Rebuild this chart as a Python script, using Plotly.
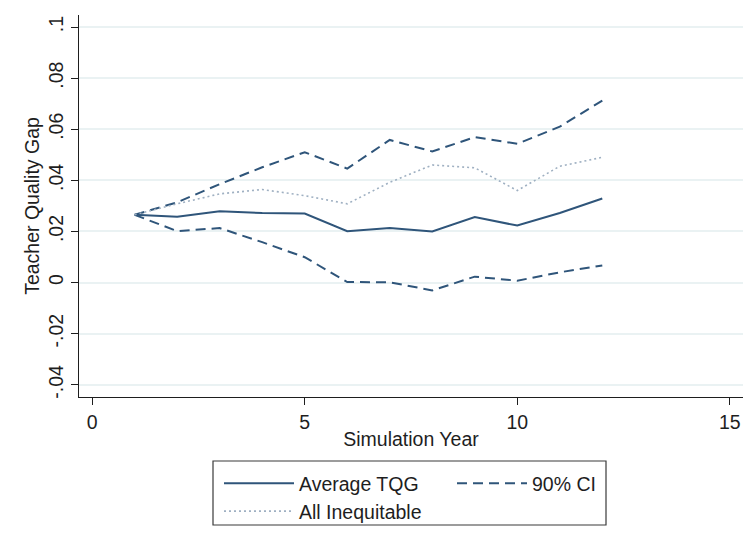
import plotly.graph_objects as go

years = list(range(1, 13))
avg_tqg = [0.0265, 0.0257, 0.0279, 0.0272, 0.0270, 0.0201, 0.0213, 0.0200, 0.0256, 0.0223, 0.0272, 0.0329]
ci_upper = [0.0265, 0.0314, 0.0385, 0.0451, 0.0510, 0.0446, 0.0558, 0.0513, 0.0569, 0.0543, 0.0610, 0.0712]
ci_lower = [0.0265, 0.0201, 0.0213, 0.0158, 0.0099, 0.0002, 0.0001, -0.0031, 0.0023, 0.0007, 0.0040, 0.0067]
all_ineq = [0.0265, 0.0308, 0.0347, 0.0364, 0.0340, 0.0308, 0.0392, 0.0460, 0.0449, 0.0360, 0.0455, 0.0490]

ytick_vals = [-0.04, -0.02, 0, 0.02, 0.04, 0.06, 0.08, 0.1]
ytick_text = ["-.04", "-.02", "0", ".02", ".04", ".06", ".08", ".1"]
xtick_vals = [0, 5, 10, 15]

NAVY = "#2f557a"
FONT = "Liberation Sans, Arial, sans-serif"
TXT = "#1e1e1e"
FS = 19.5

fig = go.Figure()
fig.add_trace(go.Scatter(x=years, y=avg_tqg, mode="lines", name="Average TQG",
                         line=dict(color=NAVY, width=2), legendwidth=145, legend="legend"))
fig.add_trace(go.Scatter(x=years, y=ci_upper, mode="lines", name="90% CI",
                         line=dict(color=NAVY, width=2, dash="10px,6px"), legend="legend"))
fig.add_trace(go.Scatter(x=years, y=ci_lower, mode="lines", name="90% CI",
                         line=dict(color=NAVY, width=2, dash="10px,6px"), showlegend=False))
fig.add_trace(go.Scatter(x=years, y=all_ineq, mode="lines", name="All Inequitable",
                         line=dict(color="#9fb0c2", width=1.6, dash="2px,3px"), legend="legend2"))

legend_common = dict(orientation="h", xanchor="left", yanchor="top",
                     borderwidth=0, bgcolor="rgba(0,0,0,0)", itemwidth=70, indentation=3,
                     font=dict(family=FONT, size=FS, color=TXT))

# page body adds an 8px offset; figure is sized so the plot sits where the reference has it
W, H = 747, 536
L, R, T, B = 71, 12, 7, 147

def px_x(p):
    return (p - 8 - L) / (W - L - R)

def px_y(p):
    return (H - B - (p - 8)) / (H - T - B)

fig.update_layout(
    width=W, height=H,
    margin=dict(l=L, r=R, t=T, b=B, autoexpand=False),
    paper_bgcolor="white", plot_bgcolor="white",
    font=dict(family=FONT, size=FS, color=TXT),
    showlegend=True,
    legend=dict(x=px_x(216), y=px_y(464), **legend_common),
    legend2=dict(x=px_x(216), y=px_y(492), **legend_common),
    xaxis=dict(range=[-0.31, 15.31], tickvals=xtick_vals, showgrid=False, zeroline=False,
               showline=True, linecolor="#1e1e1e", linewidth=1.2,
               ticks="outside", ticklen=7, tickcolor="#1e1e1e", tickwidth=1.2,
               tickfont=dict(size=FS, color=TXT),
               title=dict(text="Simulation Year", standoff=0, font=dict(size=FS, color=TXT))),
    yaxis=dict(range=[-0.0448, 0.1047], tickvals=ytick_vals, ticktext=ytick_text,
               tickangle=-90, showgrid=True, gridcolor="#eaf2f3", gridwidth=1.5,
               zeroline=False, showline=True, linecolor="#1e1e1e", linewidth=1.2,
               ticks="outside", ticklen=7, tickcolor="#1e1e1e", tickwidth=1.2,
               tickfont=dict(size=FS, color=TXT),
               title=dict(text="Teacher Quality Gap", standoff=0, font=dict(size=FS, color=TXT))),
    shapes=[
        dict(type="rect", xref="paper", yref="paper", x0=px_x(213), x1=px_x(606),
             y0=px_y(525), y1=px_y(461), line=dict(color="#3a3a3a", width=1.2),
             fillcolor="rgba(0,0,0,0)"),
    ],
)

fig.write_html("out.html")
